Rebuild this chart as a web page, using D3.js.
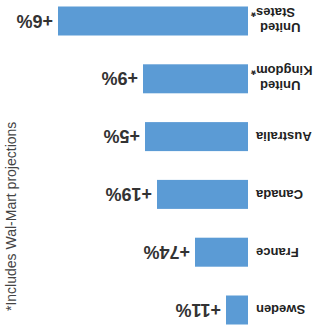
<!DOCTYPE html>
<html>
<head>
<meta charset="utf-8">
<script src="https://cdn.jsdelivr.net/npm/d3@7"></script>
<style>
html,body{margin:0;padding:0;background:#fff;}
svg{display:block;}
</style>
</head>
<body>
<svg id="chart" width="327" height="329"></svg>
<script>
// Data (chart is shown rotated 180°)
const countries = ["United States*", "United Kingdom*", "Australia", "Canada", "France", "Sweden"];
const labelLines = [["United", "States*"], ["United", "Kingdom*"], ["Australia"], ["Canada"], ["France"], ["Sweden"]];
const values = [190, 105, 103, 91, 53, 22];
const growthLabels = ["+6%", "+9%", "+5%", "+19%", "+74%", "+11%"];
const footnote = "*Includes Wal-Mart projections";

const svg = d3.select("#chart");

const x = d3.scaleLinear().domain([0, 190]).range([248, 58]);
const y = d3.scalePoint().domain(countries).range([21, 310]);
const barH = 29;

const font = "'Liberation Sans', Arial, sans-serif";

// bars
svg.selectAll("rect.bar").data(countries).join("rect")
  .attr("class", "bar")
  .attr("x", (d, i) => x(values[i]))
  .attr("y", d => y(d) - barH / 2)
  .attr("width", (d, i) => x(0) - x(values[i]))
  .attr("height", barH)
  .attr("fill", "#5b9bd5");

// value labels (upside down)
svg.selectAll("text.val").data(countries).join("text")
  .attr("class", "val")
  .attr("transform", (d, i) => `translate(${x(values[i]) - 5},${y(d)}) rotate(180)`)
  .attr("text-anchor", "start")
  .attr("dy", "0.36em")
  .attr("font-family", font)
  .attr("font-weight", "bold")
  .attr("font-size", 18)
  .attr("fill", "#333")
  .text((d, i) => growthLabels[i]);

// category labels (upside down)
const lineOffsets = { 1: [0], 2: [7, -8] };
const lineX = { 1: [256], 2: [260, 251] };
countries.forEach((c, i) => {
  const lines = labelLines[i];
  lines.forEach((t, j) => {
    svg.append("text")
      .attr("transform", `translate(${lineX[lines.length][j]},${y(c) + lineOffsets[lines.length][j]}) rotate(180)`)
      .attr("text-anchor", "end")
      .attr("dy", "0.35em")
      .attr("font-family", font)
      .attr("font-weight", "bold")
      .attr("font-size", 13)
      .attr("fill", "#222")
      .text(t);
  });
});

// footnote (rotated -90)
svg.append("text")
  .attr("transform", `translate(16,311) rotate(-90)`)
  .attr("text-anchor", "start")
  .attr("font-family", font)
  .attr("font-size", 14)
  .attr("fill", "#444")
  .text(footnote);
</script>
</body>
</html>
